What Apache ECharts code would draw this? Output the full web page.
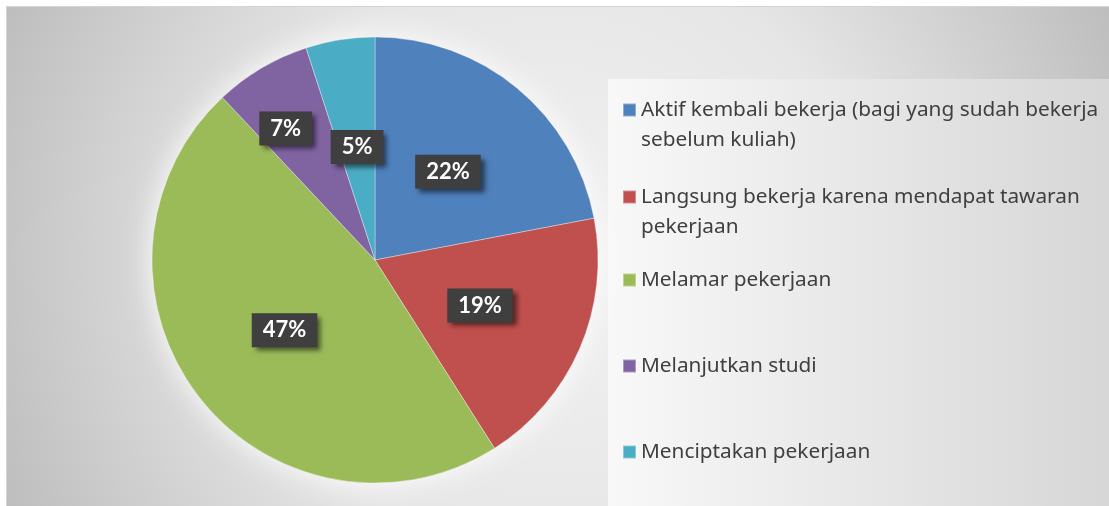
<!DOCTYPE html>
<html>
<head>
<meta charset="utf-8">
<script src="https://cdn.jsdelivr.net/npm/echarts@6/dist/echarts.min.js"></script>
<style>
  html, body { margin: 0; padding: 0; background: #ffffff; }
  #wrap { position: absolute; left: 0; top: 0; width: 1109px; height: 506px; background: #fff; overflow: hidden; }
  #chart { position: absolute; left: 6px; top: 6px; width: 1103px; height: 500px; border-left: 1px solid #d4d4d4; border-top: 1px solid #d4d4d4; }
</style>
</head>
<body>
<div id="wrap"><div id="chart"></div></div>
<script>
const categories = [
  'Aktif kembali bekerja (bagi yang sudah bekerja sebelum kuliah)',
  'Langsung bekerja karena mendapat tawaran pekerjaan',
  'Melamar pekerjaan',
  'Melanjutkan studi',
  'Menciptakan pekerjaan'
];
const values = [22, 19, 47, 7, 5];
const colors = ['#4f81bd', '#c0504d', '#9bbb59', '#8064a2', '#4bacc6'];

const LEGEND_FONT = 'Noto Sans';
const LABEL_FONT = 'Lato';
const chart = echarts.init(document.getElementById('chart'), null, { renderer: 'canvas' });

const pieData = categories.map((name, i) => {
  const item = { name: name, value: values[i], itemStyle: { color: colors[i] } };
  if (i === 3) item.label = { offset: [-31, -33] };
  return item;
});

// legend layout: one legend per item so spacing matches the reference
const legendTops = [58, 145, 258, 344, 430];
const twoLine = [true, true, false, false, false];
const legends = categories.map((name, i) => ({
  data: [name],
  orient: 'vertical',
  left: 615,
  top: legendTops[i],
  padding: 0,
  itemWidth: 13,
  itemHeight: 13,
  itemGap: 8,
  icon: 'rect',
  selectedMode: false,
  formatter: twoLine[i] ? (n) => '\n' + n : (n) => n,
  textStyle: {
    color: '#404040',
    fontFamily: LEGEND_FONT,
    fontSize: 20.8,
    lineHeight: 30,
    width: 475,
    overflow: 'break'
  }
}));

chart.setOption({
  backgroundColor: new echarts.graphic.RadialGradient(0.5, 0.5, 1.22, [
    { offset: 0, color: '#f2f2f2' },
    { offset: 0.5, color: '#e6e6e6' },
    { offset: 1, color: '#bdbdbd' }
  ]),
  animation: false,
  graphic: [{
    type: 'rect',
    left: 601,
    top: 72,
    z: -10,
    shape: { width: 510, height: 440 },
    style: {
      fill: new echarts.graphic.LinearGradient(0, 0, 1, 0, [
        { offset: 0, color: '#f8f8f8' },
        { offset: 1, color: '#d6d6d6' }
      ])
    },
    silent: true
  }],
  legend: legends,
  series: [
    {
      type: 'pie',
      name: 'main',
      z: 3,
      center: [368, 253],
      radius: [0, 223],
      startAngle: 90,
      clockwise: true,
      avoidLabelOverlap: false,
      itemStyle: { borderColor: 'rgba(255,255,255,0.35)', borderWidth: 1 },
      label: {
        show: true,
        position: 'inside',
        formatter: '{c}%',
        color: '#ffffff',
        fontFamily: LABEL_FONT,
        fontWeight: 'bold',
        fontSize: 22,
        backgroundColor: '#3f3f3f',
        padding: [7, 11, 5, 11],
        shadowColor: 'rgba(0,0,0,0.55)',
        shadowBlur: 5,
        shadowOffsetX: 4,
        shadowOffsetY: 4
      },
      labelLine: { show: false },
      emphasis: { disabled: true },
      data: pieData
    },
    {
      type: 'pie',
      name: 'glow',
      z: 1,
      silent: true,
      center: [368, 253],
      radius: [0, 223],
      startAngle: 90,
      label: { show: false },
      labelLine: { show: false },
      itemStyle: { color: '#e2e2e2', shadowBlur: 28, shadowColor: 'rgba(255,255,255,0.95)' },
      emphasis: { disabled: true },
      tooltip: { show: false },
      data: categories.map((name, i) => ({ name: name, value: values[i] }))
    }
  ]
});
</script>
</body>
</html>
